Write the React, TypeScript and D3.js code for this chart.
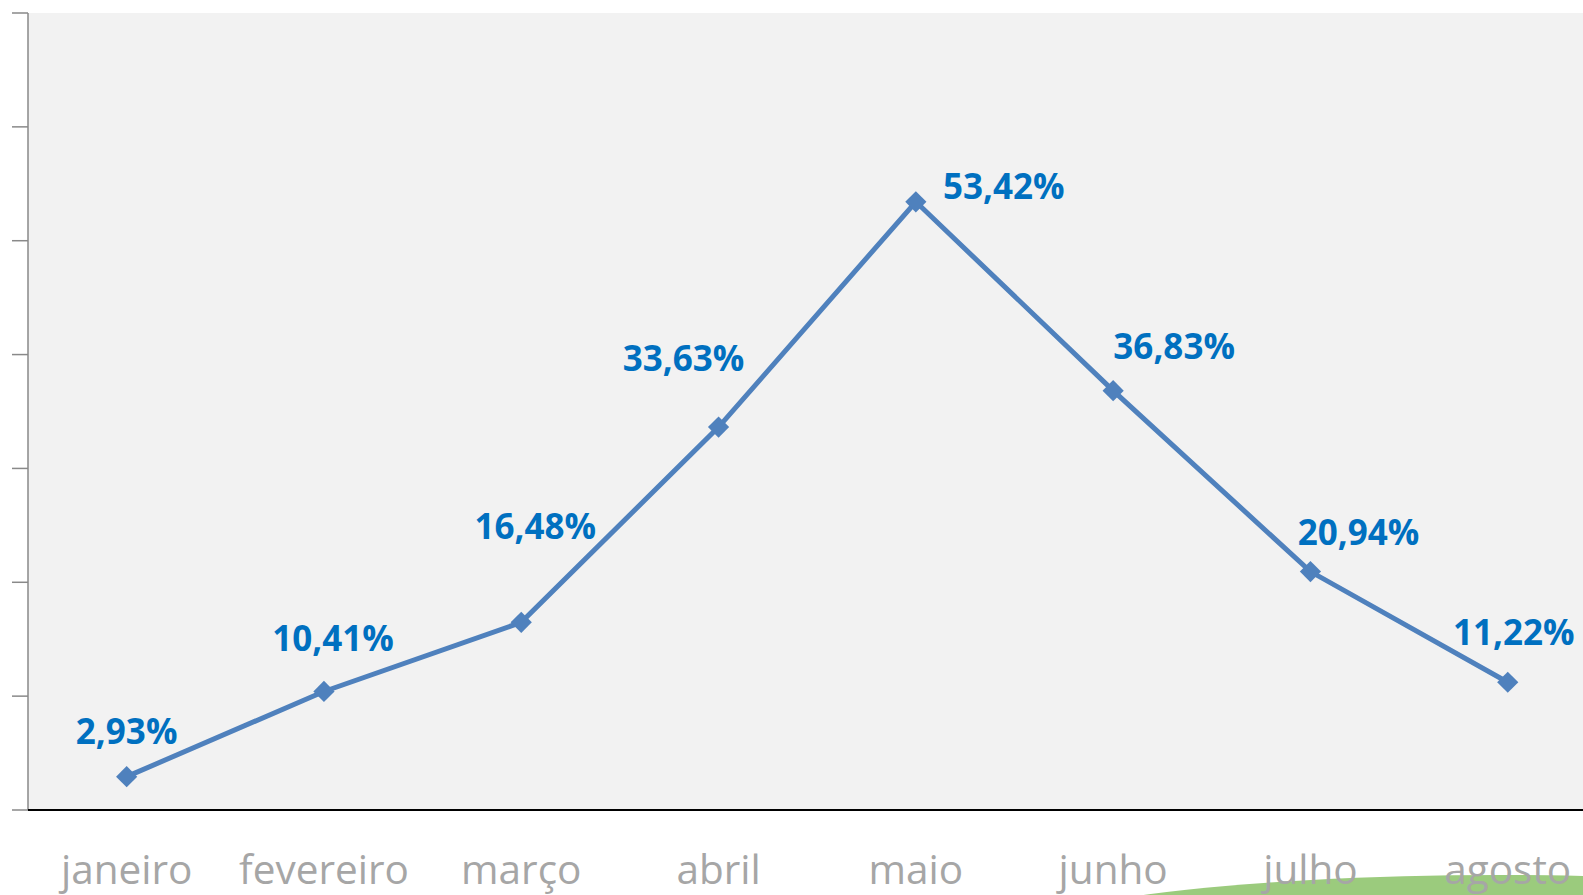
import React from "react";
import * as d3 from "d3";

const months = ["janeiro", "fevereiro", "março", "abril", "maio", "junho", "julho", "agosto"];
const values = [2.93, 10.41, 16.48, 33.63, 53.42, 36.83, 20.94, 11.22];
const yTicks = [0, 10, 20, 30, 40, 50, 60, 70];
// manual label nudges (dx, dy to baseline) relative to the point, like the original
const labelOffsets = [
  [0, -33],
  [9, -40],
  [14, -83],
  [-35, -56],
  [88, -3],
  [61, -32],
  [48, -27],
  [6, -37],
];

const fmt = (v: number) => v.toFixed(2).replace(".", ",") + "%";

const App = () => {
  const width = 1583;
  const height = 895;
  const margins = { top: 13, left: 28, bottom: 810 };

  const xScale = d3
    .scaleBand()
    .domain(months)
    .range([margins.left, margins.left + 8 * 197.3]);

  const yScale = d3.scaleLinear().domain([0, 70]).range([margins.bottom, margins.top]);

  const cx = (m: string) => (xScale(m) as number) + xScale.bandwidth() / 2;

  const line = d3
    .line<number>()
    .x((d, i) => cx(months[i]))
    .y((d) => yScale(d));

  return (
    <svg
      width={width}
      height={height}
      style={{ position: "absolute", left: 0, top: 0, background: "#fff" }}
    >
      <rect
        x={margins.left}
        y={margins.top}
        width={width - margins.left}
        height={margins.bottom - margins.top}
        fill="#f2f2f2"
      />
      <ellipse cx={1500} cy={940} rx={494} ry={65} fill="#9bcb7d" />
      {/* y axis */}
      <line
        x1={margins.left}
        x2={margins.left}
        y1={margins.top}
        y2={margins.bottom}
        stroke="#898989"
        strokeWidth={1.5}
      />
      {yTicks.map((t) => (
        <line
          key={t}
          x1={12}
          x2={margins.left}
          y1={yScale(t)}
          y2={yScale(t)}
          stroke="#898989"
          strokeWidth={1.5}
        />
      ))}
      {/* x axis */}
      <line
        x1={margins.left}
        x2={width}
        y1={margins.bottom}
        y2={margins.bottom}
        stroke="#000"
        strokeWidth={2}
      />
      {months.map((m) => (
        <text
          key={m}
          x={cx(m)}
          y={884}
          textAnchor="middle"
          fontFamily="'Open Sans', sans-serif"
          fontSize={40.5}
          fill="#a6a6a6"
        >
          {m}
        </text>
      ))}
      <path d={line(values) || ""} fill="none" stroke="#4f81bd" strokeWidth={5} />
      {values.map((v, i) => (
        <rect
          key={i}
          x={-7.5}
          y={-7.5}
          width={15}
          height={15}
          fill="#4f81bd"
          transform={`translate(${cx(months[i])},${yScale(v)}) rotate(45)`}
        />
      ))}
      {values.map((v, i) => (
        <text
          key={i}
          x={cx(months[i]) + labelOffsets[i][0]}
          y={yScale(v) + labelOffsets[i][1]}
          textAnchor="middle"
          fontFamily="'Open Sans', sans-serif"
          fontWeight="bold"
          fontSize={35}
          fill="#0070c0"
        >
          {fmt(v)}
        </text>
      ))}
    </svg>
  );
};

export default App;
